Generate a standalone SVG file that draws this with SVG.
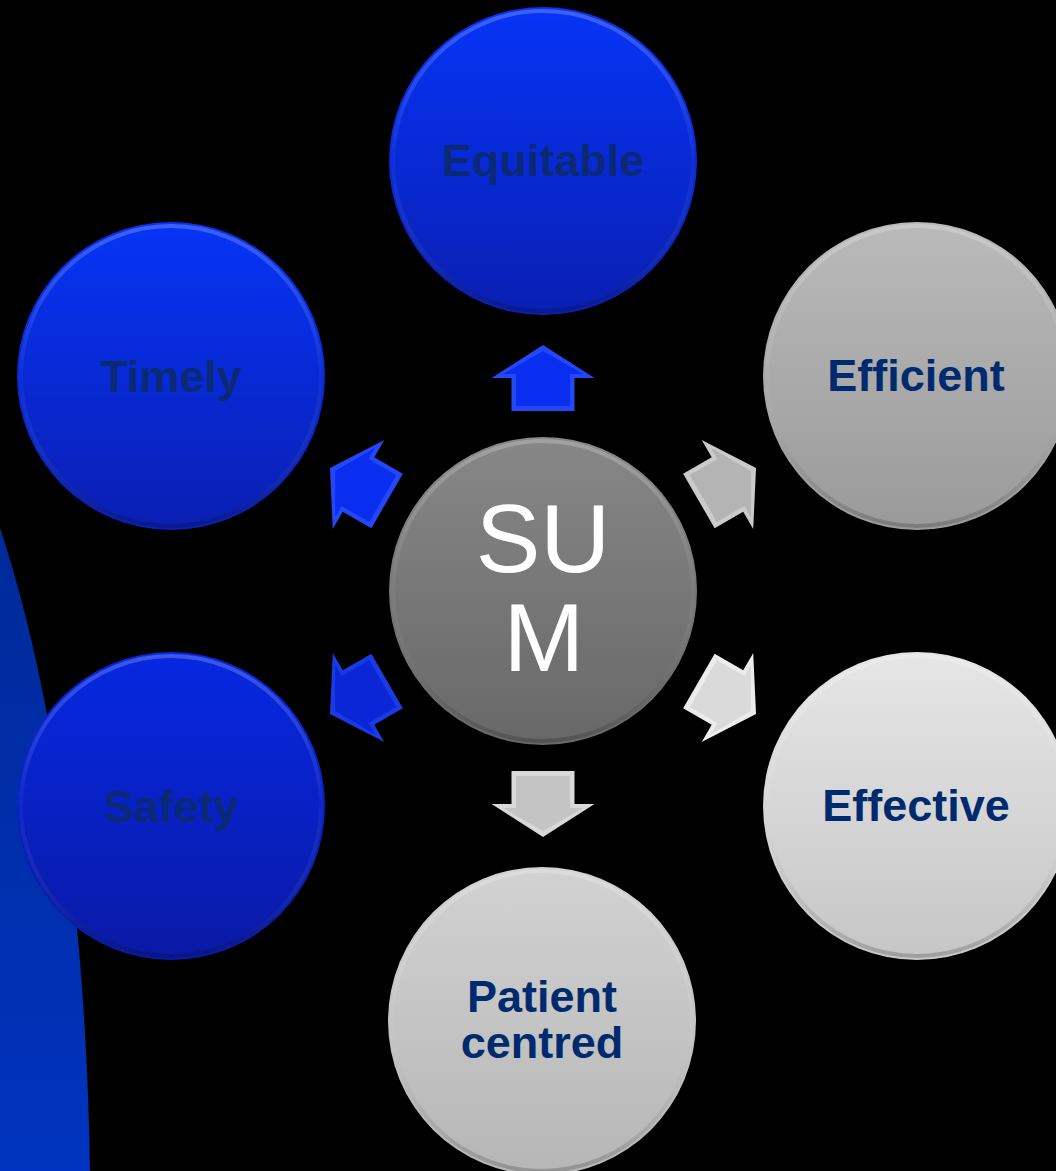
<svg xmlns="http://www.w3.org/2000/svg" xmlns:xlink="http://www.w3.org/1999/xlink" width="1056" height="1171" viewBox="0 0 1056 1171">
<style>
.lbl{font-family:"Liberation Sans",Arial,sans-serif;font-weight:bold;font-size:45px;text-anchor:middle}
.lblb{fill:#0b2a76}
.lblg{fill:#002a6e}
.sum{font-family:"Liberation Sans",Arial,sans-serif;font-size:97px;fill:#ffffff;text-anchor:middle}
.rim{fill:none;stroke:url(#rim);stroke-width:4}
</style>
<defs>
<linearGradient id="band" x1="0" y1="0" x2="0" y2="1"><stop offset="0" stop-color="#002a98"/><stop offset="1" stop-color="#0033bf"/></linearGradient>
<linearGradient id="blue" x1="0" y1="0" x2="0" y2="1"><stop offset="0" stop-color="#0634f7"/><stop offset="1" stop-color="#0a1fb2"/></linearGradient>
<linearGradient id="blue2" x1="0" y1="0" x2="0" y2="1"><stop offset="0" stop-color="#0628e2"/><stop offset="1" stop-color="#0a1aa6"/></linearGradient>
<linearGradient id="gEff" x1="0" y1="0" x2="0" y2="1"><stop offset="0" stop-color="#bababa"/><stop offset="1" stop-color="#9a9a9a"/></linearGradient>
<linearGradient id="gEffc" x1="0" y1="0" x2="0" y2="1"><stop offset="0" stop-color="#e6e6e6"/><stop offset="1" stop-color="#c6c6c6"/></linearGradient>
<linearGradient id="gPat" x1="0" y1="0" x2="0" y2="1"><stop offset="0" stop-color="#d2d2d2"/><stop offset="1" stop-color="#b6b6b6"/></linearGradient>
<linearGradient id="gSum" x1="0" y1="0" x2="0" y2="1"><stop offset="0" stop-color="#878787"/><stop offset="1" stop-color="#686868"/></linearGradient>
<linearGradient id="rim" x1="0" y1="0" x2="0" y2="1"><stop offset="0" stop-color="#ffffff" stop-opacity="0.22"/><stop offset="0.5" stop-color="#ffffff" stop-opacity="0.03"/><stop offset="1" stop-color="#000000" stop-opacity="0.2"/></linearGradient>
<path id="aOut" d="M180,-31.5 L213,-31.5 L213,-51.5 L246,0 L213,51.5 L213,31.5 L180,31.5 Z"/>
<path id="aIn" d="M185,-27 L217,-27 L217,-40 L240,0 L217,40 L217,27 L185,27 Z"/>
</defs>
<rect width="1056" height="1171" fill="#000000"/>
<path d="M0,528 C50,680 86,900 90,1171 L0,1171 Z" fill="url(#band)"/>

<g id="connectors">
<g transform="translate(543,591) rotate(-90)"><use href="#aOut" fill="#2448f8"/><use href="#aIn" fill="#0a2ef0"/></g>
<g transform="translate(543,591) rotate(210)"><use href="#aOut" fill="#2448f8"/><use href="#aIn" fill="#0a2ef0"/></g>
<g transform="translate(543,591) rotate(150)"><use href="#aOut" fill="#1a3ae4"/><use href="#aIn" fill="#0a26d6"/></g>
<g transform="translate(543,591) rotate(-30)"><use href="#aOut" fill="#cbcbcb"/><use href="#aIn" fill="#b4b4b4"/></g>
<g transform="translate(543,591) rotate(30)"><use href="#aOut" fill="#ececec"/><use href="#aIn" fill="#dadada"/></g>
<g transform="translate(543,591) rotate(90)"><use href="#aOut" fill="#d8d8d8"/><use href="#aIn" fill="#c4c4c4"/></g>
</g>

<g id="equitable">
<circle cx="543" cy="161" r="154" fill="url(#blue)"/>
<circle class="rim" cx="543" cy="161" r="150"/>
<text class="lbl lblb" x="543" y="176">Equitable</text>
</g>
<g id="timely">
<circle cx="171" cy="376" r="154" fill="url(#blue)"/>
<circle class="rim" cx="171" cy="376" r="150"/>
<text class="lbl lblb" x="171" y="392">Timely</text>
</g>
<g id="safety">
<circle cx="171" cy="806" r="154" fill="url(#blue2)"/>
<circle class="rim" cx="171" cy="806" r="150"/>
<text class="lbl lblb" x="171" y="822">Safety</text>
</g>
<g id="efficient">
<circle cx="917" cy="376" r="154" fill="url(#gEff)"/>
<circle class="rim" cx="917" cy="376" r="150"/>
<text class="lbl lblg" x="916" y="391">Efficient</text>
</g>
<g id="effective">
<circle cx="917" cy="806" r="154" fill="url(#gEffc)"/>
<circle class="rim" cx="917" cy="806" r="150"/>
<text class="lbl lblg" x="916" y="821">Effective</text>
</g>
<g id="patient-centred">
<circle cx="542" cy="1021" r="154" fill="url(#gPat)"/>
<circle class="rim" cx="542" cy="1021" r="150"/>
<text class="lbl lblg" x="542" y="1012">Patient</text>
<text class="lbl lblg" x="542" y="1058">centred</text>
</g>
<g id="sum">
<circle cx="543" cy="591" r="154" fill="url(#gSum)"/>
<circle class="rim" cx="543" cy="591" r="150"/>
<text class="sum" x="543" y="572">SU</text>
<text class="sum" x="544" y="671">M</text>
</g>
</svg>
